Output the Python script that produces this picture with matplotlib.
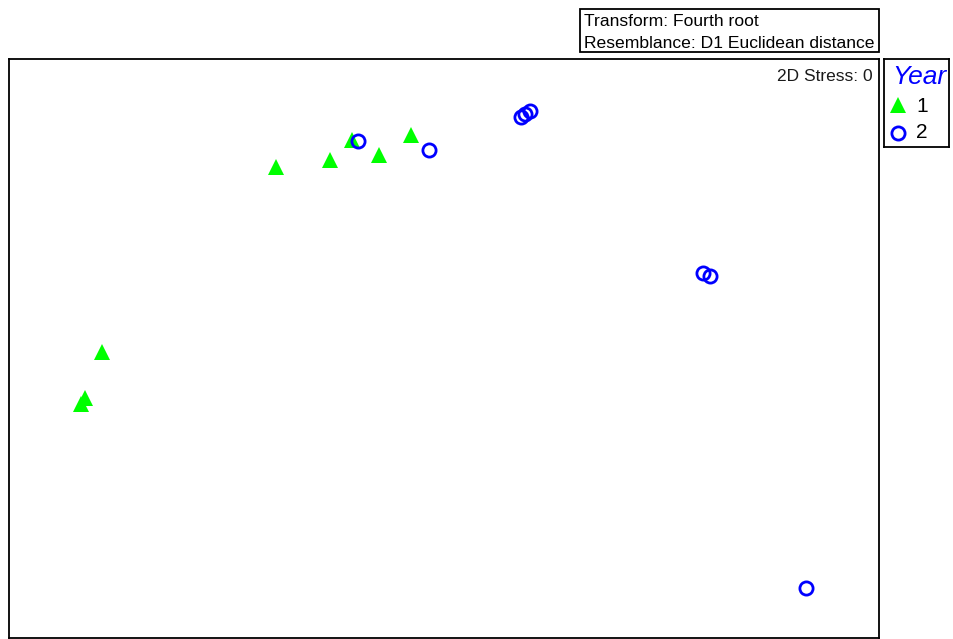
import matplotlib
matplotlib.use("Agg")
import matplotlib.pyplot as plt
from matplotlib.patches import Rectangle

plt.rcParams['font.family'] = ['Liberation Sans', 'DejaVu Sans']

# nMDS ordination coordinates
year1_x = [2.67, 3.21, 3.43, 3.70, 4.02, 0.93, 0.76, 0.72]
year1_y = [4.71, 4.78, 4.98, 4.83, 5.03, 2.86, 2.40, 2.34]
year2_x = [3.49, 4.20, 5.12, 5.16, 5.21, 6.94, 7.01, 7.97]
year2_y = [4.97, 4.88, 5.21, 5.24, 5.27, 3.65, 3.62, 0.50]

groups = ["1", "2"]
stress_text = "2D Stress: 0"
info_lines = ["Transform: Fourth root", "Resemblance: D1 Euclidean distance"]

W, H = 954, 639
fig = plt.figure(figsize=(W / 100, H / 100), dpi=100)

def fx(px):
    return px / W

def fy(py):
    return 1 - py / H

# main ordination panel
ax = fig.add_axes([fx(9), fy(638), (879 - 9) / W, (638 - 59) / H])
ax.set_xlim(0, 8.70)
ax.set_ylim(0, 5.79)
ax.set_xticks([])
ax.set_yticks([])
for s in ax.spines.values():
    s.set_linewidth(1.3)
    s.set_color('black')

ax.plot(year1_x, year1_y, linestyle='none', marker='^', markersize=11.5,
        color='#00ff00', markeredgewidth=0, clip_on=False)
ax.plot(year2_x, year2_y, linestyle='none', marker='o', markersize=9.5,
        markerfacecolor='none', markeredgecolor='#0000ff', markeredgewidth=2.0,
        clip_on=False)

ax.text(0.993, 0.970, stress_text, transform=ax.transAxes, ha='right', va='center',
        fontsize=12.5, color='#1a1a1a')

# transform / resemblance box
box = Rectangle((fx(580), fy(52)), (879 - 580) / W, (52 - 9) / H,
                transform=fig.transFigure, fill=False, edgecolor='black', linewidth=1.3)
fig.add_artist(box)
t1 = fig.text(fx(584), fy(21), info_lines[0], ha='left', va='center', fontsize=12.6)
t2 = fig.text(fx(584), fy(43), info_lines[1], ha='left', va='center', fontsize=12.6)
t2.set_clip_path(box)

# legend panel
lax = fig.add_axes([fx(884), fy(147), (949 - 884) / W, (147 - 59) / H])
lax.set_xlim(884, 949)
lax.set_ylim(147, 59)
lax.set_xticks([])
lax.set_yticks([])
for s in lax.spines.values():
    s.set_linewidth(1.3)
    s.set_color('black')
lax.text(892, 77, "Year", ha='left', va='center', fontsize=19, style='italic',
         color='#0000ff', clip_on=False)
lax.plot([898], [105], linestyle='none', marker='^', markersize=11.5, color='#00ff00',
         markeredgewidth=0)
lax.plot([898], [133], linestyle='none', marker='o', markersize=9.5, markerfacecolor='none',
         markeredgecolor='#0000ff', markeredgewidth=2.0)
lax.text(916, 106, groups[0], ha='left', va='center', fontsize=15)
lax.text(916, 133, groups[1], ha='left', va='center', fontsize=15)

fig.savefig("out.png", dpi=100)
